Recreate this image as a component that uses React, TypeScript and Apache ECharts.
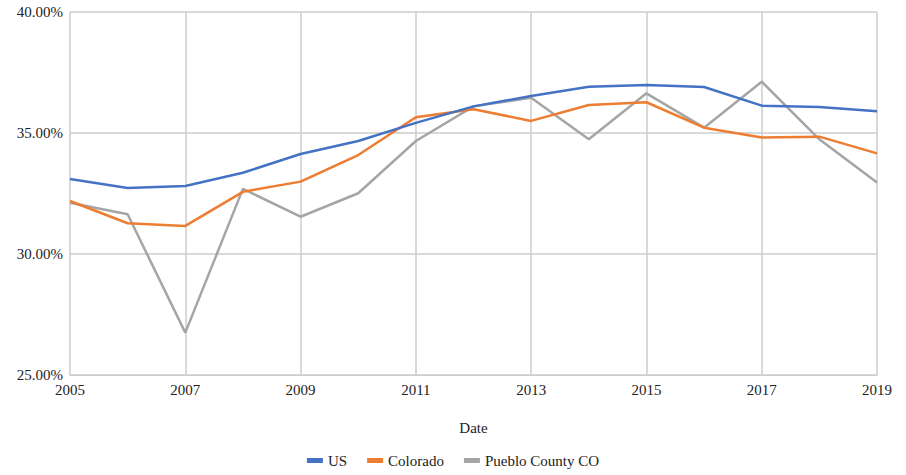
import React, { useEffect, useRef } from "react";
import * as echarts from "echarts";

const years = ["2005","2006","2007","2008","2009","2010","2011","2012","2013","2014","2015","2016","2017","2018","2019"];
const usValues = [33.10, 32.73, 32.81, 33.36, 34.13, 34.67, 35.42, 36.10, 36.53, 36.91, 36.98, 36.90, 36.13, 36.07, 35.90];
const coloradoValues = [32.19, 31.27, 31.16, 32.57, 32.99, 34.09, 35.65, 35.98, 35.50, 36.16, 36.27, 35.22, 34.81, 34.85, 34.16];
const puebloValues = [32.12, 31.64, 26.75, 32.69, 31.54, 32.51, 34.67, 36.10, 36.46, 34.74, 36.64, 35.22, 37.12, 34.74, 32.95];
const seriesNames = ["US", "Colorado", "Pueblo County CO"];
const colors = ["#4472C4", "#ED7D31", "#A5A5A5"];

const FONT = "'Liberation Serif', 'DejaVu Serif', serif";

export default function App() {
  const ref = useRef<HTMLDivElement>(null);
  useEffect(() => {
    document.body.style.margin = "0";
    const chart = echarts.init(ref.current!, null, { renderer: "svg" });
    const data = [usValues, coloradoValues, puebloValues];
    chart.setOption({
      animation: false,
      textStyle: { fontFamily: FONT },
      color: colors,
      grid: { left: 70, right: 29, top: 12, bottom: 100, containLabel: false },
      legend: {
        bottom: 2,
        left: "center",
        icon: "rect",
        itemWidth: 16,
        itemHeight: 5,
        itemGap: 20,
        textStyle: { fontFamily: FONT, fontSize: 15, color: "#222" },
        data: seriesNames,
      },
      xAxis: {
        type: "category",
        data: years,
        boundaryGap: false,
        name: "Date",
        nameLocation: "middle",
        nameGap: 45,
        nameTextStyle: { fontFamily: FONT, fontSize: 15, color: "#222" },
        axisLine: { show: true, lineStyle: { color: "#cccccc" } },
        axisTick: { show: false },
        axisLabel: { interval: 1, fontFamily: FONT, fontSize: 15, color: "#222", margin: 7 },
        splitLine: { show: true, interval: 1, lineStyle: { color: "#cccccc", width: 1.5 } },
      },
      yAxis: {
        type: "value",
        min: 25,
        max: 40,
        interval: 5,
        axisLine: { show: false },
        axisTick: { show: false },
        axisLabel: {
          fontFamily: FONT,
          fontSize: 15,
          color: "#222",
          margin: 7,
          formatter: (v: number) => v.toFixed(2) + "%",
        },
        splitLine: { show: true, lineStyle: { color: "#cccccc", width: 1.5 } },
      },
      series: seriesNames.map((name, i) => ({
        name,
        type: "line",
        data: data[i],
        symbol: "none",
        lineStyle: { width: 2.5, color: colors[i] },
        itemStyle: { color: colors[i] },
        z: 3 - i,
      })),
    });
    return () => chart.dispose();
  }, []);
  return <div ref={ref} style={{ width: 906, height: 475 }} />;
}
